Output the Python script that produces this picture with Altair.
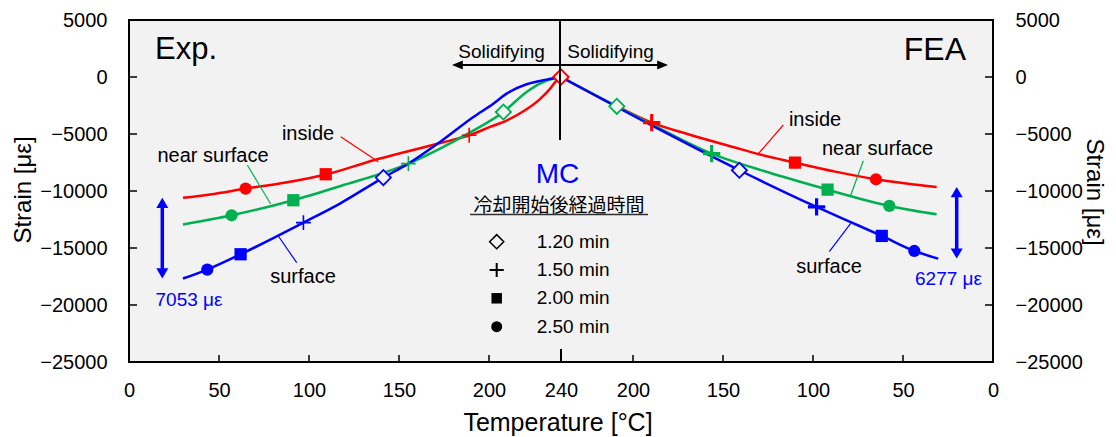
import altair as alt
import pandas as pd

# ---------------- data ----------------
series_names = ["inside", "near surface", "surface"]
series_colors = ["#ff0000", "#00b050", "#0000ff"]
times = ["1.20 min", "1.50 min", "2.00 min", "2.50 min"]

# Exp. (left half): temperature [°C] and strain [µε]
exp_inside_T = [30, 45, 65, 87, 110, 136, 154, 173, 189, 200.6, 210, 220, 228, 234, 237.6, 240]
exp_inside_strain = [-10600, -10300, -9790, -9260, -8530, -7300, -6550, -5790, -5110, -4380,
                     -3800, -2920, -1980, -1020, -290, 0]
exp_near_T = [30, 57, 91.3, 117.2, 155.2, 172.8, 189, 208, 220.9, 228.3, 235.7, 240]
exp_near_strain = [-12940, -12130, -10810, -9580, -7600, -6280, -4900, -3070, -1310, -580, -140, 0]
exp_surface_T = [30, 43.5, 62, 96.9, 117.2, 141.3, 155.2, 172.8, 191.3, 202.4, 209.8, 220.9, 232, 240]
exp_surface_strain = [-17680, -16890, -15550, -12770, -11100, -8820, -7600, -5700, -3510, -2340,
                      -1460, -640, -230, 0]

# FEA (right half)
fea_inside_T = [240, 210, 189.6, 169.3, 143.3, 131.3, 110, 87.6, 65, 48.2, 31.3]
fea_inside_strain = [0, -2480, -4000, -5020, -6190, -6720, -7510, -8300, -8970, -9340, -9650]
fea_near_T = [240, 209, 189.6, 156.3, 124, 91.9, 75, 57.6, 31.3]
fea_near_strain = [0, -2570, -4150, -6720, -8400, -9880, -10630, -11310, -12040]
fea_surface_T = [240, 189.6, 140.9, 98, 80, 61.8, 43.7, 30.4]
fea_surface_strain = [0, -4250, -8180, -11400, -12660, -13940, -15260, -15930]

# markers at 1.20 / 1.50 / 2.00 / 2.50 min
exp_inside_mark_T = [240, 189, 109.3, 64.8]
exp_inside_mark_strain = [0, -5110, -8530, -9790]
exp_near_mark_T = [208, 155.2, 91.3, 57]
exp_near_mark_strain = [-3070, -7600, -10810, -12130]
exp_surface_mark_T = [141.3, 96.9, 62, 43.5]
exp_surface_mark_strain = [-8820, -12770, -15550, -16890]
fea_inside_mark_T = [240, 189.6, 110, 65]
fea_inside_mark_strain = [0, -4000, -7510, -8970]
fea_near_mark_T = [209, 156.3, 91.9, 57.6]
fea_near_mark_strain = [-2570, -6720, -9880, -11310]
fea_surface_mark_T = [140.9, 98, 61.8, 43.7]
fea_surface_mark_strain = [-8180, -11400, -13940, -15260]

x_tick_labels = [0, 50, 100, 150, 200, 240, 200, 150, 100, 50, 0]
y_ticks = [5000, 0, -5000, -10000, -15000, -20000, -25000]
diff_labels = ["7053 με", "6277 με"]

# ---------------- tables ----------------
def pos_of(side, t):
    return t if side == "Exp" else 480 - t

curve_sets = {
    "Exp": [(exp_inside_T, exp_inside_strain), (exp_near_T, exp_near_strain),
            (exp_surface_T, exp_surface_strain)],
    "FEA": [(fea_inside_T, fea_inside_strain), (fea_near_T, fea_near_strain),
            (fea_surface_T, fea_surface_strain)],
}
mark_sets = {
    "Exp": [(exp_inside_mark_T, exp_inside_mark_strain), (exp_near_mark_T, exp_near_mark_strain),
            (exp_surface_mark_T, exp_surface_mark_strain)],
    "FEA": [(fea_inside_mark_T, fea_inside_mark_strain), (fea_near_mark_T, fea_near_mark_strain),
            (fea_surface_mark_T, fea_surface_mark_strain)],
}

rows = []
for side, sets in curve_sets.items():
    for name, color, (T, S) in zip(series_names, series_colors, sets):
        for t, s in zip(T, S):
            rows.append(dict(side=side, series=name, color=color, key=side + name,
                             pos=pos_of(side, t), strain=s))
curves = pd.DataFrame(rows)

rows = []
for side, sets in mark_sets.items():
    for name, color, (T, S) in zip(series_names, series_colors, sets):
        for tm, t, s in zip(times, T, S):
            rows.append(dict(side=side, series=name, color=color, time=tm,
                             pos=pos_of(side, t), strain=s))
marks = pd.DataFrame(rows)

x_tick_pos = [t if i <= 5 else 480 - t for i, t in enumerate(x_tick_labels)]

# ---------------- layout constants ----------------
X0, Y0 = 129, 20          # plot origin in page pixels
W, H = 864, 342
FONT = "Liberation Sans, Arial, Helvetica, sans-serif"
CJK = "Noto Sans CJK JP"
BG = "#f2f2f2"

xs = alt.Scale(domain=[0, 480], nice=False, zero=False)
ys = alt.Scale(domain=[-25000, 5000], nice=False, zero=False)

def X(f="pos:Q", axis=None):
    return alt.X(f, scale=xs, axis=axis)

def Y(f="strain:Q", axis=None):
    return alt.Y(f, scale=ys, axis=axis)

def txt(s, x, y, size=20, color="black", align="center", font=FONT, angle=0):
    kw = dict(fontSize=size, color=color, align=align, baseline="middle", font=font)
    if angle:
        kw["angle"] = angle
    return alt.Chart(pd.DataFrame({"t": [s]})).mark_text(**kw).encode(
        x=alt.value(x - X0), y=alt.value(y - Y0), text="t:N")

def seg(x1, y1, x2, y2, color="black", width=1.2):
    return alt.Chart(pd.DataFrame({"a": [0]})).mark_rule(color=color, strokeWidth=width).encode(
        x=alt.value(x1 - X0), y=alt.value(y1 - Y0), x2=alt.value(x2 - X0), y2=alt.value(y2 - Y0))

def sym(shape, x, y, size, fill=None, stroke=None, width=1.5):
    kw = dict(shape=shape, size=size, opacity=1, strokeWidth=width)
    if fill:
        kw["fill"] = fill
        kw["fillOpacity"] = 1
        kw["filled"] = True
    else:
        kw["filled"] = False
    if stroke:
        kw["stroke"] = stroke
    return alt.Chart(pd.DataFrame({"a": [0]})).mark_point(**kw).encode(
        x=alt.value(x - X0), y=alt.value(y - Y0))

PLUS = "M-1,0L1,0M0,-1L0,1"
HEAD_L = "M0,0L1.8,-0.75L1.8,0.75Z"
HEAD_R = "M0,0L-1.8,-0.75L-1.8,0.75Z"
HEAD_UP = "M0,0L-1,1.7L1,1.7Z"
HEAD_DN = "M0,0L-1,-1.7L1,-1.7Z"

LBL = dict(title=None, grid=False, domain=False, ticks=False, tickSize=0, labelFontSize=20,
           labelFont=FONT, labelColor="black", labelOverlap=False, labelFlush=False)

# ---------------- axes (labels) + inward ticks ----------------
ytick_df = pd.DataFrame({"v": y_ticks})
xtick_df = pd.DataFrame({"v": x_tick_pos})

left_ticks = alt.Chart(ytick_df).mark_rule(color="black", strokeWidth=1.5).encode(
    y=alt.Y("v:Q", scale=ys, axis=alt.Axis(values=y_ticks, format="d", labelPadding=22, **LBL)),
    x=alt.value(0), x2=alt.value(8))
right_ticks = alt.Chart(ytick_df).mark_rule(color="black", strokeWidth=1.5).encode(
    y=alt.Y("v:Q", scale=ys, axis=alt.Axis(orient="right", values=y_ticks, format="d",
                                           labelPadding=22, **LBL)),
    x=alt.value(W - 8), x2=alt.value(W))
bottom_ticks = alt.Chart(xtick_df).mark_rule(color="black", strokeWidth=1.5).encode(
    x=alt.X("v:Q", scale=xs, axis=alt.Axis(values=x_tick_pos, labelPadding=18,
            labelExpr="datum.value <= 240 ? '' + datum.value : '' + (480 - datum.value)", **LBL)),
    y=alt.value(H), y2=alt.value(H - 7))
center_tick = alt.Chart(pd.DataFrame({"v": [240]})).mark_rule(color="black", strokeWidth=2).encode(
    x=X("v:Q"), y=alt.value(H), y2=alt.value(H - 13))

# ---------------- curves and markers ----------------
lines = alt.Chart(curves).mark_line(interpolate="monotone", strokeWidth=2.5).encode(
    x=X(), y=Y(), color=alt.Color("color:N", scale=None), detail="key:N")

base_m = alt.Chart(marks)
diam = base_m.transform_filter(alt.datum.time == times[0]).mark_point(
    shape="diamond", size=230, fill=BG, fillOpacity=1, filled=True, strokeWidth=1.8, opacity=1).encode(
    x=X(), y=Y(), stroke=alt.Stroke("color:N", scale=None))
plus_exp = base_m.transform_filter((alt.datum.time == times[1]) & (alt.datum.side == "Exp")).mark_point(
    shape=PLUS, size=220, filled=False, strokeWidth=1.6, opacity=1).encode(
    x=X(), y=Y(), stroke=alt.Stroke("color:N", scale=None))
plus_fea = base_m.transform_filter((alt.datum.time == times[1]) & (alt.datum.side == "FEA")).mark_point(
    shape=PLUS, size=300, filled=False, strokeWidth=3.2, opacity=1).encode(
    x=X(), y=Y(), stroke=alt.Stroke("color:N", scale=None))
squares = base_m.transform_filter(alt.datum.time == times[2]).mark_square(size=150, opacity=1).encode(
    x=X(), y=Y(), color=alt.Color("color:N", scale=None))
circles = base_m.transform_filter(alt.datum.time == times[3]).mark_circle(size=150, opacity=1).encode(
    x=X(), y=Y(), color=alt.Color("color:N", scale=None))

# ---------------- difference arrows ----------------
def vert_arrow(xpx, top, bottom):
    d = pd.DataFrame({"top": [top], "bottom": [bottom]})
    shaft = alt.Chart(d).mark_rule(color="#0000ff", strokeWidth=3.5, yOffset=8, y2Offset=-8).encode(
        x=alt.value(xpx - X0), y=Y("top:Q"), y2="bottom:Q")
    up = alt.Chart(d).mark_point(shape=HEAD_UP, size=144, filled=True, fill="#0000ff",
                                 fillOpacity=1, opacity=1, strokeWidth=0).encode(
        x=alt.value(xpx - X0), y=Y("top:Q"))
    dn = alt.Chart(d).mark_point(shape=HEAD_DN, size=144, filled=True, fill="#0000ff",
                                 fillOpacity=1, opacity=1, strokeWidth=0).encode(
        x=alt.value(xpx - X0), y=Y("bottom:Q"))
    return [shaft, up, dn]

arrows = vert_arrow(162.3, exp_inside_strain[0], exp_surface_strain[0]) + \
         vert_arrow(956.7, fea_inside_strain[-1], fea_surface_strain[-1])

# ---------------- annotations ----------------
ann = [
    txt("Exp.", 155, 50, size=31, align="left"),
    txt("FEA", 966, 50, size=32, align="right"),
    seg(560, 20, 560, 140, width=2),
    txt("Solidifying", 501.5, 52, size=19),
    txt("Solidifying", 610.5, 52, size=19),
    seg(560, 65, 460, 65, width=2),
    seg(560, 65, 660, 65, width=2),
    sym(HEAD_L, 452, 65, 144, fill="black", width=0),
    sym(HEAD_R, 668, 65, 144, fill="black", width=0),
    txt("MC", 557.5, 175, size=28, color="#0000ff"),
    txt("冷却開始後経過時間", 559, 206, size=19, font=CJK),
    seg(470, 214.5, 648, 214.5, color="#303030", width=1.5),
    txt("inside", 308, 134, size=20),
    seg(340.7, 136.7, 378.3, 161.7, color="#ff0000"),
    txt("near surface", 213, 155.5, size=20),
    seg(247.3, 165, 270.7, 204, color="#00b050"),
    txt("surface", 303, 276.5, size=20),
    seg(278.3, 236, 296.7, 262.7, color="#0000ff"),
    txt(diff_labels[0], 189, 300, size=19, color="#0000ff"),
    txt("inside", 815, 120, size=20),
    seg(783.3, 125, 757.3, 155, color="#ff0000"),
    txt("near surface", 877.5, 149, size=20),
    seg(863.3, 160.7, 850.7, 195.3, color="#00b050"),
    txt("surface", 829, 267, size=20),
    seg(829.3, 251.7, 850.7, 223.3, color="#0000ff"),
    txt(diff_labels[1], 948.5, 279, size=19, color="#0000ff"),
    txt("Strain [με]", 24, 190, size=24, angle=270),
    txt("Strain [με]", 1094, 192, size=24, angle=90),
    txt("Temperature [°C]", 558, 423, size=25),
]

legend_y = [241.7, 270, 298.3, 326.7]
legend_shapes = [
    dict(shape="diamond", size=200, fill=BG, stroke="black", width=1.5),
    dict(shape=PLUS, size=200, fill=None, stroke="black", width=2),
    dict(shape="square", size=110, fill="black", stroke=None, width=0),
    dict(shape="circle", size=120, fill="black", stroke=None, width=0),
]
for ly, tm, spec in zip(legend_y, times, legend_shapes):
    ann.append(sym(spec["shape"], 496.7, ly, spec["size"], fill=spec["fill"],
                   stroke=spec["stroke"], width=spec["width"]))
    ann.append(txt(tm, 536.7, ly, size=19, align="left"))

layers = [left_ticks, right_ticks, bottom_ticks, center_tick, lines, diam, plus_exp, plus_fea,
          squares, circles] + arrows + ann

chart = alt.layer(*layers).resolve_axis(x="independent", y="independent").properties(
    width=W, height=H,
    autosize=alt.AutoSizeParams(type="none"),
    padding={"left": X0 - 8, "top": Y0 - 8, "right": 1100 - (X0 - 8) - W, "bottom": 75},
).configure_view(stroke="black", strokeWidth=2, fill=BG).configure_axis(grid=False)

chart.save("out.html", embed_options={"renderer": "svg", "actions": False})
